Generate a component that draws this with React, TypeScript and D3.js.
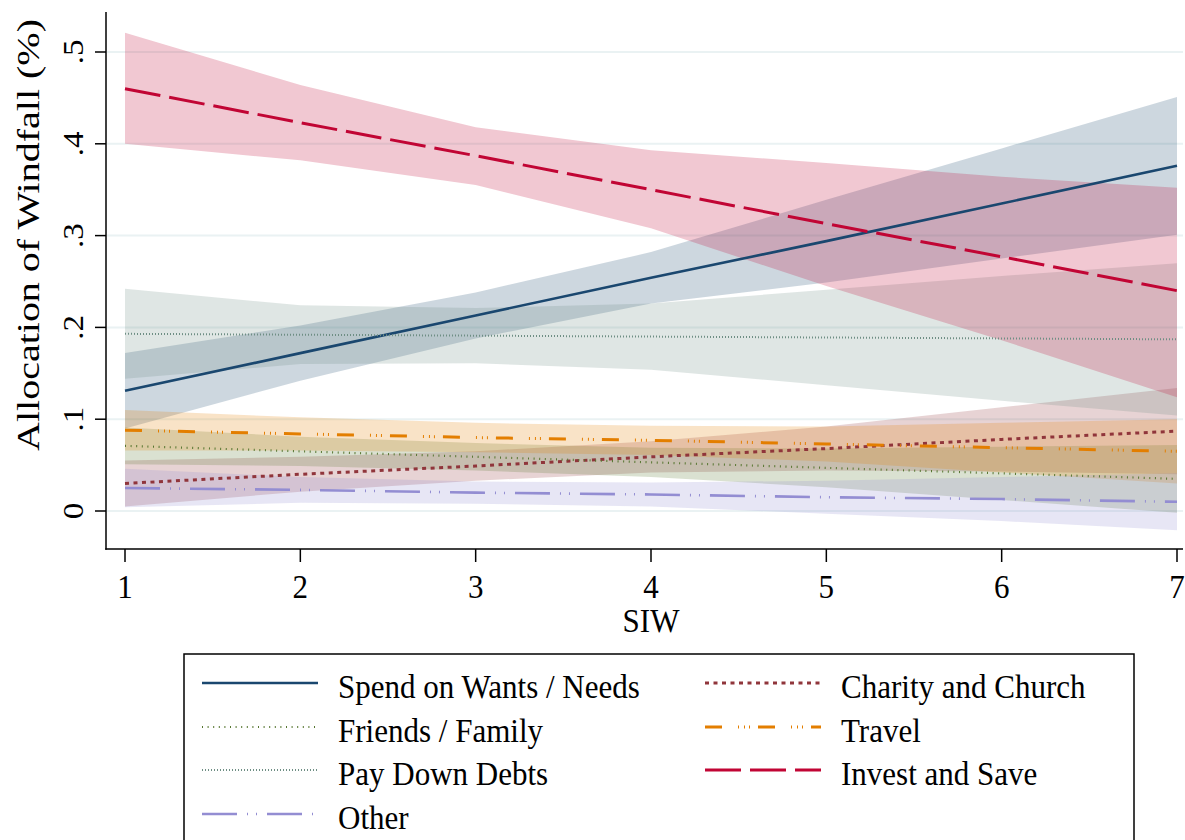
import React from "react";
import * as d3 from "d3";

// SIW levels on the x axis
const siw = [1, 2, 3, 4, 5, 6, 7];

// Predicted allocation shares with 95% confidence bounds, by SIW level
const spendMean = [0.131, 0.172, 0.213, 0.254, 0.294, 0.335, 0.376];
const spendHi = [0.172, 0.202, 0.238, 0.282, 0.339, 0.395, 0.451];
const spendLo = [0.09, 0.142, 0.188, 0.226, 0.249, 0.275, 0.301];

const charityMean = [0.03, 0.04, 0.049, 0.059, 0.068, 0.078, 0.087];
const charityHi = [0.055, 0.059, 0.065, 0.076, 0.092, 0.113, 0.134];
const charityLo = [0.005, 0.021, 0.033, 0.042, 0.044, 0.043, 0.04];

const friendsMean = [0.071, 0.065, 0.059, 0.053, 0.047, 0.041, 0.035];
const friendsHi = [0.091, 0.081, 0.074, 0.069, 0.068, 0.07, 0.072];
const friendsLo = [0.051, 0.049, 0.044, 0.037, 0.026, 0.012, -0.002];

const travelMean = [0.088, 0.084, 0.08, 0.077, 0.073, 0.069, 0.065];
const travelHi = [0.11, 0.102, 0.096, 0.093, 0.092, 0.096, 0.1];
const travelLo = [0.066, 0.066, 0.064, 0.061, 0.054, 0.042, 0.03];

const debtsMean = [0.193, 0.192, 0.191, 0.19, 0.189, 0.188, 0.187];
const debtsHi = [0.242, 0.224, 0.221, 0.226, 0.241, 0.256, 0.27];
const debtsLo = [0.144, 0.16, 0.161, 0.154, 0.137, 0.12, 0.104];

const investMean = [0.46, 0.423, 0.387, 0.35, 0.313, 0.277, 0.24];
const investHi = [0.521, 0.464, 0.418, 0.393, 0.379, 0.364, 0.352];
const investLo = [0.4, 0.382, 0.355, 0.308, 0.245, 0.186, 0.124];

const otherMean = [0.025, 0.023, 0.02, 0.018, 0.015, 0.013, 0.01];
const otherHi = [0.046, 0.037, 0.032, 0.031, 0.033, 0.037, 0.041];
const otherLo = [0.004, 0.009, 0.008, 0.005, -0.003, -0.011, -0.021];

const yTicks = [0, 0.1, 0.2, 0.3, 0.4, 0.5];
const yTickLabels = ["0", ".1", ".2", ".3", ".4", ".5"];
const xTicks = [1, 2, 3, 4, 5, 6, 7];

type Series = {
  name: string;
  color: string;
  width: number;
  dash: string;
  mean: number[];
  lo: number[];
  hi: number[];
};

const series: Series[] = [
  { name: "Spend on Wants / Needs", color: "#1a476f", width: 2.6, dash: "", mean: spendMean, lo: spendLo, hi: spendHi },
  { name: "Charity and Church", color: "#90353b", width: 3, dash: "4 4.5", mean: charityMean, lo: charityLo, hi: charityHi },
  { name: "Friends / Family", color: "#55752f", width: 2.2, dash: "1 4.6", mean: friendsMean, lo: friendsLo, hi: friendsHi },
  { name: "Travel", color: "#e37e00", width: 3, dash: "17 16 1 5 1 4 1 8", mean: travelMean, lo: travelLo, hi: travelHi },
  { name: "Pay Down Debts", color: "#6e8e84", width: 2, dash: "1 2", mean: debtsMean, lo: debtsLo, hi: debtsHi },
  { name: "Invest and Save", color: "#c10534", width: 3, dash: "36 9", mean: investMean, lo: investLo, hi: investHi },
  { name: "Other", color: "#938dd2", width: 2.6, dash: "35 10 1 8 1 10", mean: otherMean, lo: otherLo, hi: otherHi },
];

// legend layout: two columns, filled row by row
const legendOrder = [
  "Spend on Wants / Needs",
  "Charity and Church",
  "Friends / Family",
  "Travel",
  "Pay Down Debts",
  "Invest and Save",
  "Other",
];

const FONT = "'Liberation Serif', 'Times New Roman', serif";

function SText(props: {
  x: number;
  y: number;
  anchor?: string;
  rotate?: number;
  size?: number;
  sx?: number;
  children: React.ReactNode;
}) {
  const { x, y, anchor = "start", rotate = 0, size = 33, sx = 0.94 } = props;
  return (
    <g transform={`translate(${x},${y}) scale(${sx},1) rotate(${rotate})`}>
      <text x={0} y={0} textAnchor={anchor} fontFamily={FONT} fontSize={size} fill="#000">
        {props.children}
      </text>
    </g>
  );
}

export default function App() {
  const x = d3.scaleLinear().domain([1, 7]).range([125, 1177]);
  const y = d3.scaleLinear().domain([0, 0.5]).range([511, 52]);

  const axisLeft = 106;
  const axisBottom = 549;

  const area = (s: Series) =>
    d3
      .area<number>()
      .x((d) => x(d))
      .y0((_, i) => y(s.lo[i]))
      .y1((_, i) => y(s.hi[i]))(siw) || "";
  const line = (s: Series) =>
    d3
      .line<number>()
      .x((d) => x(d))
      .y((_, i) => y(s.mean[i]))(siw) || "";

  const legendRowY = [683, 727, 770, 814];
  const legendColX = [202, 705];
  const legendTextX = [338, 841];

  return (
    <svg
      width={1185}
      height={840}
      style={{ position: "absolute", left: 0, top: 0, background: "#fff" }}
    >
      <rect x={0} y={0} width={1185} height={840} fill="#fff" />
      {/* horizontal grid */}
      {yTicks.map((t) => (
        <line key={"g" + t} x1={axisLeft + 1} x2={1183} y1={y(t)} y2={y(t)} stroke="#eaf2f3" strokeWidth={2} />
      ))}
      {/* confidence bands */}
      {series.map((s) => (
        <path key={"a" + s.name} d={area(s)} fill={s.color} fillOpacity={0.22} stroke="none" />
      ))}
      {/* predicted lines */}
      {series.map((s) => (
        <path
          key={"l" + s.name}
          d={line(s)}
          fill="none"
          stroke={s.color}
          strokeWidth={s.width}
          strokeDasharray={s.dash || undefined}
        />
      ))}
      {/* y axis */}
      <line x1={axisLeft} x2={axisLeft} y1={12} y2={axisBottom + 0.75} stroke="#000" strokeWidth={1.5} />
      {yTicks.map((t, i) => (
        <g key={"yt" + t}>
          <line x1={axisLeft - 11} x2={axisLeft} y1={y(t)} y2={y(t)} stroke="#000" strokeWidth={1.5} />
          <SText x={83} y={y(t)} anchor="middle" rotate={-90} sx={0.9}>
            {yTickLabels[i]}
          </SText>
        </g>
      ))}
      <SText x={39} y={235} anchor="middle" rotate={-90} size={40} sx={0.8}>
        Allocation of Windfall (%)
      </SText>
      {/* x axis */}
      <line x1={axisLeft - 0.75} x2={1183} y1={axisBottom} y2={axisBottom} stroke="#000" strokeWidth={1.5} />
      {xTicks.map((t) => (
        <g key={"xt" + t}>
          <line x1={x(t)} x2={x(t)} y1={axisBottom} y2={axisBottom + 13} stroke="#000" strokeWidth={1.5} />
          <SText x={x(t)} y={598} anchor="middle">
            {t}
          </SText>
        </g>
      ))}
      <SText x={651} y={632} anchor="middle">
        SIW
      </SText>
      {/* legend */}
      <rect x={184} y={654} width={950} height={210} fill="#fff" stroke="#000" strokeWidth={1.5} />
      {legendOrder.map((name, k) => {
        const s = series.find((d) => d.name === name)!;
        const row = Math.floor(k / 2);
        const col = k % 2;
        const ly = legendRowY[row];
        return (
          <g key={"lg" + name}>
            <line
              x1={legendColX[col]}
              x2={legendColX[col] + 116}
              y1={ly}
              y2={ly}
              stroke={s.color}
              strokeWidth={s.width}
              strokeDasharray={s.dash || undefined}
            />
            <SText x={legendTextX[col]} y={ly + 15}>
              {name}
            </SText>
          </g>
        );
      })}
    </svg>
  );
}
